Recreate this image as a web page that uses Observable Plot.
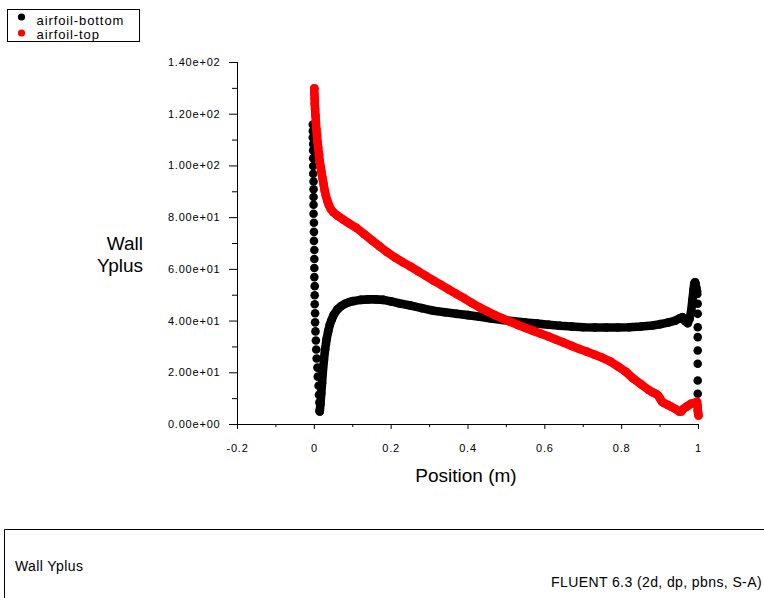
<!DOCTYPE html>
<html>
<head>
<meta charset="utf-8">
<script src="https://cdn.jsdelivr.net/npm/d3@7"></script>
<script src="https://cdn.jsdelivr.net/npm/@observablehq/plot@0.6"></script>
<style>
  html, body { margin: 0; padding: 0; background: #fff; }
  body { width: 764px; height: 598px; position: relative; overflow: hidden; color: #000;
         font-family: "Liberation Sans", Arial, sans-serif; }
  #chart { position: absolute; left: 0; top: 0; }
  .ov { position: absolute; left: 0; top: 0; pointer-events: none; }
</style>
</head>
<body>
<div id="chart"></div>
<svg class="ov" width="764" height="598" xmlns="http://www.w3.org/2000/svg" font-family="Liberation Sans, Arial, sans-serif">
  <!-- legend -->
  <rect x="7.5" y="9.5" width="132" height="32" fill="none" stroke="#000" stroke-width="1"/>
  <g id="legend"></g>
  <!-- axis titles -->
  <text x="143" y="250" text-anchor="end" font-size="19">Wall</text>
  <text x="143" y="272" text-anchor="end" font-size="19">Yplus</text>
  <text x="466" y="482" text-anchor="middle" font-size="19">Position (m)</text>
  <!-- bottom panel -->
  <path d="M4.5,598 V529.5 H764" fill="none" stroke="#000" stroke-width="1"/>
  <text id="capL" x="15" y="571" font-size="14" letter-spacing="0.4"></text>
  <text id="capR" x="762" y="587" font-size="14" letter-spacing="0.4" text-anchor="end"></text>
</svg>
<script>
// ---- series names / captions ----
const seriesNames = ["airfoil-bottom", "airfoil-top"];
const seriesColors = ["#000000", "#ff0000"];
const yLabel = "Wall Yplus";
const footerRight = "FLUENT 6.3 (2d, dp, pbns, S-A)";

// ---- tick values ----
const xMajor = [-0.2, 0, 0.2, 0.4, 0.6, 0.8, 1];
const xMinor = [-0.1, 0.1, 0.3, 0.5, 0.7, 0.9];
const yMajor = [0, 20, 40, 60, 80, 100, 120, 140];
const yMinor = [10, 30, 50, 70, 90, 110, 130];

// ---- airfoil-bottom: leading-edge (sparse) points ----
const bottomLeX = [-0.004,-0.004,-0.004,-0.003,-0.003,-0.003,-0.003,-0.003,-0.002,-0.002,-0.002,-0.002,-0.002,-0.001,-0.001,-0.001,0,0,0,0,0.001,0.001,0.001,0.002,0.002,0.003,0.004,0.005,0.006,0.008,0.009,0.011,0.012,0.013,0.014];
const bottomLeY = [116,113.5,111,108.5,106,103,100,97,94,91,88,85,81.5,78,74.5,71,67.5,64,60.5,57,53.5,50,46.5,43,39.5,36,32.5,29,25.5,22,18.5,15,11.5,8.5,5.5];

// ---- airfoil-bottom: main (dense) points ----
const bottomX = [0.014,0.016,0.018,0.02,0.022,0.025,0.028,0.032,0.036,0.04,0.045,0.05,0.06,0.07,0.08,0.09,0.1,0.12,0.14,0.16,0.18,0.2,0.22,0.25,0.28,0.31,0.34,0.37,0.4,0.43,0.46,0.49,0.52,0.55,0.58,0.61,0.64,0.67,0.7,0.73,0.76,0.79,0.82,0.85,0.88,0.9,0.92,0.94,0.95,0.958,0.965,0.972,0.977,0.981,0.984,0.987,0.989,0.991,0.992,0.994,0.996];
const bottomY = [5,8,12,16,20,25,29,33,36,38.5,40.5,42.3,44.5,45.8,46.7,47.3,47.7,48.2,48.4,48.4,48.2,47.6,46.9,46.0,45.0,44.0,43.4,42.8,42.3,41.7,41.0,40.4,39.9,39.4,39.0,38.6,38.2,37.9,37.6,37.5,37.5,37.5,37.6,37.9,38.3,38.8,39.4,40.2,41.0,41.5,40.0,39.2,41.0,44.0,48.0,52.0,54.5,55.0,54.5,53.0,51.5];

// ---- airfoil-bottom: trailing-edge (sparse) points ----
const bottomTeX = [0.997,0.998,0.998,0.998,0.998,0.998,0.998,0.998,0.998];
const bottomTeY = [50.5,46.7,42.8,37.6,33.8,28.6,23.5,17,11.9];

// ---- airfoil-top ----
const topX = [0,0,0.001,0.001,0.002,0.003,0.004,0.005,0.007,0.008,0.01,0.012,0.014,0.016,0.018,0.021,0.024,0.027,0.03,0.034,0.038,0.043,0.05,0.06,0.075,0.09,0.11,0.13,0.15,0.17,0.19,0.21,0.23,0.25,0.27,0.29,0.31,0.33,0.35,0.37,0.39,0.41,0.43,0.45,0.47,0.49,0.51,0.53,0.55,0.57,0.59,0.61,0.63,0.65,0.67,0.69,0.71,0.73,0.75,0.77,0.79,0.81,0.83,0.85,0.87,0.88,0.89,0.895,0.9,0.905,0.91,0.92,0.93,0.94,0.95,0.955,0.96,0.97,0.98,0.99,0.996,0.998,0.998,0.999,1.0];
const topY = [130,128,126,124,122,119.5,117,114.5,112,109.5,107,104.5,102,100,98,95.5,93,90.5,88.5,86.5,84.8,83.3,82,80.8,79.3,77.8,76,73.6,71.2,68.9,66.6,64.6,62.8,61.1,59.3,57.5,55.7,54,52.2,50.5,48.8,47,45.3,43.8,42.3,41,39.7,38.5,37.3,36.2,35.1,34,32.8,31.6,30.4,29.2,28.1,27,25.8,24.4,22.5,20.5,17.8,15.6,13.4,12.5,11.8,11.2,10,8.8,8.3,7.6,6.8,6,5,5,6,7,8,8.3,8.8,7,5.5,4.5,3.5];

const pts = (xs, ys) => xs.map((x, i) => ({x, y: ys[i]}));
const bottomLe = pts(bottomLeX, bottomLeY);
const bottom = pts(bottomX, bottomY);
const bottomTe = pts(bottomTeX, bottomTeY);
const top_ = pts(topX, topY);

const fmtY = d => {
  const [m, e] = d.toExponential(2).split("e");
  const sign = e[0] === "-" ? "-" : "+";
  const digits = e.replace(/[+-]/, "").padStart(2, "0");
  return `${m}e${sign}${digits}`;
};
const blank = () => "";
const R = 4.3;

const chart = Plot.plot({
  width: 764,
  height: 598,
  marginLeft: 237,
  marginRight: 66,
  marginTop: 62,
  marginBottom: 174,
  style: {fontFamily: "Liberation Sans, Arial, sans-serif", fontSize: "11px", letterSpacing: "0.8px", color: "#000", background: "transparent"},
  x: {domain: [-0.2, 1]},
  y: {domain: [0, 140]},
  marks: [
    Plot.ruleY([0], {stroke: "#000"}),
    Plot.ruleX([-0.2], {stroke: "#000"}),
    Plot.axisY(yMajor, {tickSize: 8, tickPadding: 9, tickFormat: fmtY, label: null, stroke: "#000", fill: "#000"}),
    Plot.axisY(yMinor, {tickSize: 5, tickFormat: blank, label: null, stroke: "#000"}),
    Plot.axisX(xMajor, {tickSize: 5, tickPadding: 15, tickFormat: d => String(d), label: null, stroke: "#000", fill: "#000"}),
    Plot.axisX(xMinor, {tickSize: 3, tickFormat: blank, label: null, stroke: "#000"}),
    // airfoil-bottom
    Plot.line(bottom, {x: "x", y: "y", stroke: seriesColors[0], strokeWidth: 2 * R, strokeLinejoin: "round", strokeLinecap: "round"}),
    Plot.dot(bottom, {x: "x", y: "y", r: R, fill: seriesColors[0]}),
    Plot.dot(bottomLe, {x: "x", y: "y", r: R, fill: seriesColors[0]}),
    Plot.dot(bottomTe, {x: "x", y: "y", r: R, fill: seriesColors[0]}),
    // airfoil-top
    Plot.line(top_, {x: "x", y: "y", stroke: seriesColors[1], strokeWidth: 2 * R, strokeLinejoin: "round", strokeLinecap: "round"}),
    Plot.dot(top_, {x: "x", y: "y", r: R, fill: seriesColors[1]})
  ]
});
document.getElementById("chart").appendChild(chart);

// legend entries
const ns = "http://www.w3.org/2000/svg";
const lg = document.getElementById("legend");
seriesNames.forEach((name, i) => {
  const c = document.createElementNS(ns, "circle");
  c.setAttribute("cx", 21.5); c.setAttribute("cy", 17 + 16 * i); c.setAttribute("r", 3.6);
  c.setAttribute("fill", seriesColors[i]);
  lg.appendChild(c);
  const t = document.createElementNS(ns, "text");
  t.setAttribute("x", 36.5); t.setAttribute("y", 24.5 + 14 * i);
  t.setAttribute("font-size", 13);
  t.setAttribute("letter-spacing", 0.9);
  t.textContent = name;
  lg.appendChild(t);
});
document.getElementById("capL").textContent = yLabel;
document.getElementById("capR").textContent = footerRight;
</script>
</body>
</html>
